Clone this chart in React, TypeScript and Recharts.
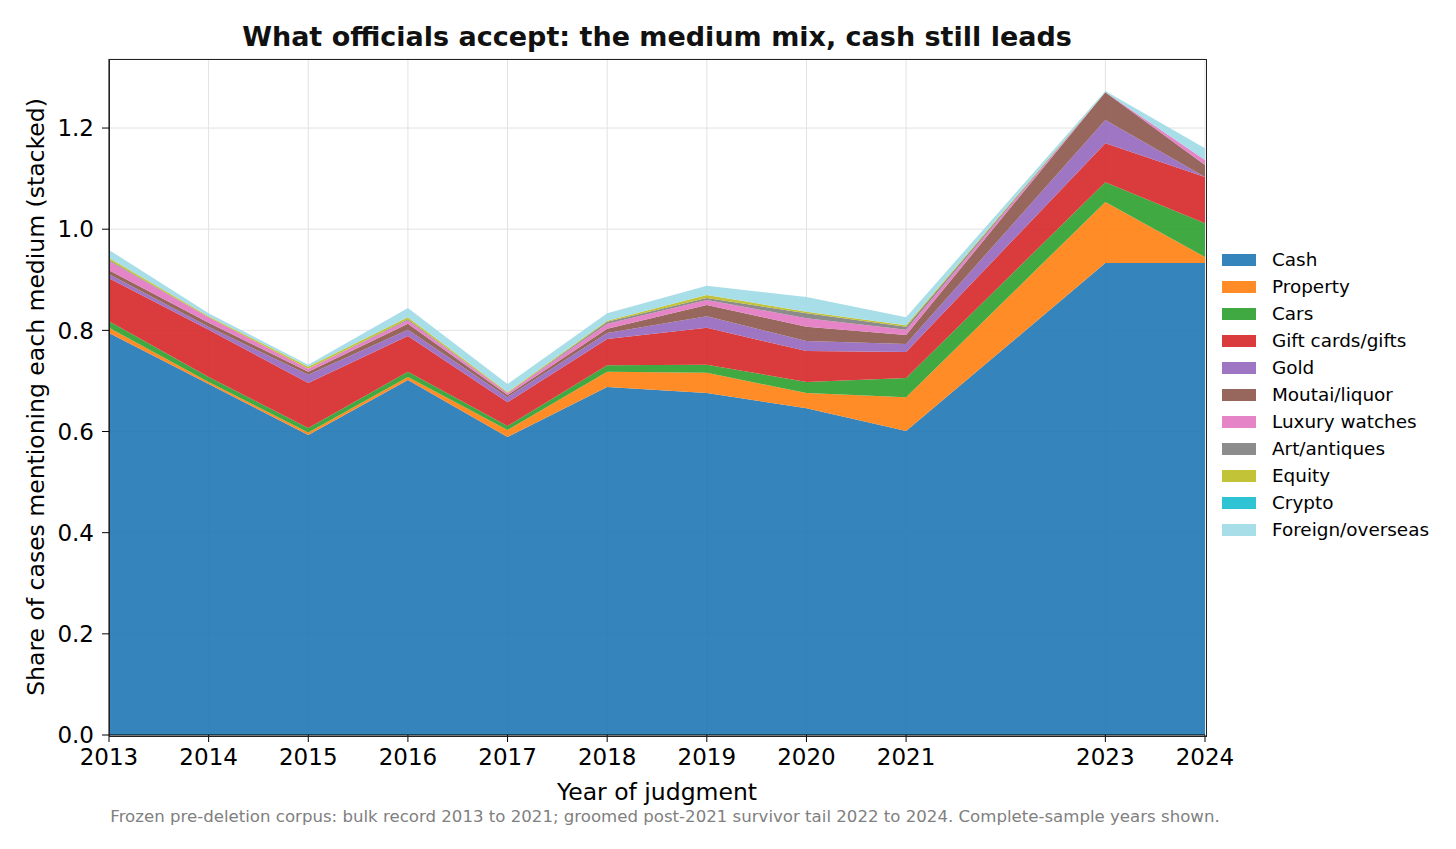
import React from "react";
import { AreaChart, Area, XAxis, YAxis, CartesianGrid } from "recharts";

const years = [2013, 2014, 2015, 2016, 2017, 2018, 2019, 2020, 2021, 2023, 2024];
const cash = [0.795, 0.694, 0.593, 0.702, 0.589, 0.688, 0.676, 0.646, 0.601, 0.933, 0.933];
const property = [0.010, 0.004, 0.005, 0.006, 0.014, 0.030, 0.040, 0.030, 0.067, 0.121, 0.012];
const cars = [0.013, 0.010, 0.009, 0.010, 0.008, 0.013, 0.016, 0.022, 0.038, 0.039, 0.067];
const gifts = [0.085, 0.093, 0.089, 0.071, 0.047, 0.052, 0.073, 0.061, 0.051, 0.077, 0.091];
const gold = [0.008, 0.006, 0.016, 0.012, 0.010, 0.012, 0.023, 0.020, 0.016, 0.046, 0.000];
const moutai = [0.008, 0.008, 0.006, 0.012, 0.004, 0.008, 0.022, 0.028, 0.018, 0.055, 0.024];
const watches = [0.018, 0.011, 0.006, 0.007, 0.004, 0.010, 0.010, 0.017, 0.010, 0.000, 0.010];
const art = [0.002, 0.000, 0.000, 0.002, 0.000, 0.004, 0.004, 0.010, 0.006, 0.000, 0.000];
const equity = [0.004, 0.002, 0.004, 0.004, 0.002, 0.002, 0.006, 0.003, 0.003, 0.000, 0.000];
const crypto = [0, 0, 0, 0, 0, 0, 0, 0, 0, 0, 0];
const foreign = [0.016, 0.006, 0.004, 0.018, 0.016, 0.015, 0.018, 0.029, 0.016, 0.002, 0.023];

const xTicks = [2013, 2014, 2015, 2016, 2017, 2018, 2019, 2020, 2021, 2023, 2024];
const yTicks = [0, 0.2, 0.4, 0.6, 0.8, 1.0, 1.2];

const series = [
  { key: "Cash", values: cash, color: "#1f77b4" },
  { key: "Property", values: property, color: "#ff7f0e" },
  { key: "Cars", values: cars, color: "#2ca02c" },
  { key: "Gift cards/gifts", values: gifts, color: "#d62728" },
  { key: "Gold", values: gold, color: "#9467bd" },
  { key: "Moutai/liquor", values: moutai, color: "#8c564b" },
  { key: "Luxury watches", values: watches, color: "#e377c2" },
  { key: "Art/antiques", values: art, color: "#7f7f7f" },
  { key: "Equity", values: equity, color: "#bcbd22" },
  { key: "Crypto", values: crypto, color: "#17becf" },
  { key: "Foreign/overseas", values: foreign, color: "#9edae5" },
];

const data = years.map((year, i) => {
  const row: Record<string, number> = { year };
  series.forEach((s) => {
    row[s.key] = s.values[i];
  });
  return row;
});

const FONT = "'DejaVu Sans', sans-serif";

export default function App() {
  return (
    <div style={{ position: "absolute", left: 0, top: 0, width: 1456, height: 849, background: "#fff", fontFamily: FONT }}>
      <div
        style={{
          position: "absolute",
          left: 109,
          width: 1096,
          top: 21,
          textAlign: "center",
          fontWeight: "bold",
          fontSize: 27,
          lineHeight: "32px",
          color: "#111",
          whiteSpace: "nowrap",
        }}
      >
        What officials accept: the medium mix, cash still leads
      </div>
      <AreaChart
        width={1456}
        height={849}
        data={data}
        margin={{ top: 59, left: 29, right: 251, bottom: 74 }}
      >
        <CartesianGrid stroke="#e2e2e2" strokeWidth={1} />
        <XAxis
          dataKey="year"
          type="number"
          domain={[2013, 2024]}
          ticks={xTicks}
          interval={0}
          allowDataOverflow
          height={40}
          tickSize={7}
          tickMargin={7}
          stroke="#000"
          tick={{ fill: "#000", fontSize: 23, fontFamily: FONT }}
        />
        <YAxis
          type="number"
          domain={[0, 1.3365]}
          ticks={yTicks}
          allowDataOverflow
          width={80}
          tickSize={7}
          tickMargin={8}
          stroke="#000"
          tickFormatter={(v: number) => v.toFixed(1)}
          tick={{ fill: "#000", fontSize: 23, fontFamily: FONT }}
        />
        {series.map((s) => (
          <Area
            key={s.key}
            dataKey={s.key}
            stackId="1"
            type="linear"
            stroke="none"
            fill={s.color}
            fillOpacity={0.9}
            isAnimationActive={false}
            dot={false}
            activeDot={false}
          />
        ))}
      </AreaChart>
      <div
        style={{
          position: "absolute",
          left: 108.5,
          top: 58.5,
          width: 1096,
          height: 676,
          border: "1.3px solid #222",
          pointerEvents: "none",
          boxSizing: "content-box",
        }}
      />
      <div style={{ position: "absolute", left: 1222, top: 246, fontSize: 18.4, color: "#000" }}>
        {series.map((s) => (
          <div key={s.key} style={{ display: "flex", alignItems: "center", height: 27 }}>
            <div
              style={{
                width: 34,
                height: 12,
                background: s.color,
                opacity: 0.9,
                marginRight: 16,
                flex: "none",
              }}
            />
            <span style={{ whiteSpace: "nowrap" }}>{s.key}</span>
          </div>
        ))}
      </div>
      <div
        style={{
          position: "absolute",
          left: 109,
          width: 1096,
          top: 777,
          textAlign: "center",
          fontSize: 23.5,
          lineHeight: "30px",
          color: "#000",
          whiteSpace: "nowrap",
        }}
      >
        Year of judgment
      </div>
      <div
        style={{
          position: "absolute",
          left: 36,
          top: 397,
          transform: "translate(-50%, -50%) rotate(-90deg)",
          whiteSpace: "nowrap",
          fontSize: 23.5,
          lineHeight: "30px",
          color: "#000",
        }}
      >
        Share of cases mentioning each medium (stacked)
      </div>
      <div
        style={{
          position: "absolute",
          left: 0,
          width: 1330,
          top: 807,
          textAlign: "center",
          fontSize: 16.6,
          lineHeight: "20px",
          color: "#808080",
          whiteSpace: "nowrap",
        }}
      >
        Frozen pre-deletion corpus: bulk record 2013 to 2021; groomed post-2021 survivor tail 2022 to 2024. Complete-sample years shown.
      </div>
    </div>
  );
}
